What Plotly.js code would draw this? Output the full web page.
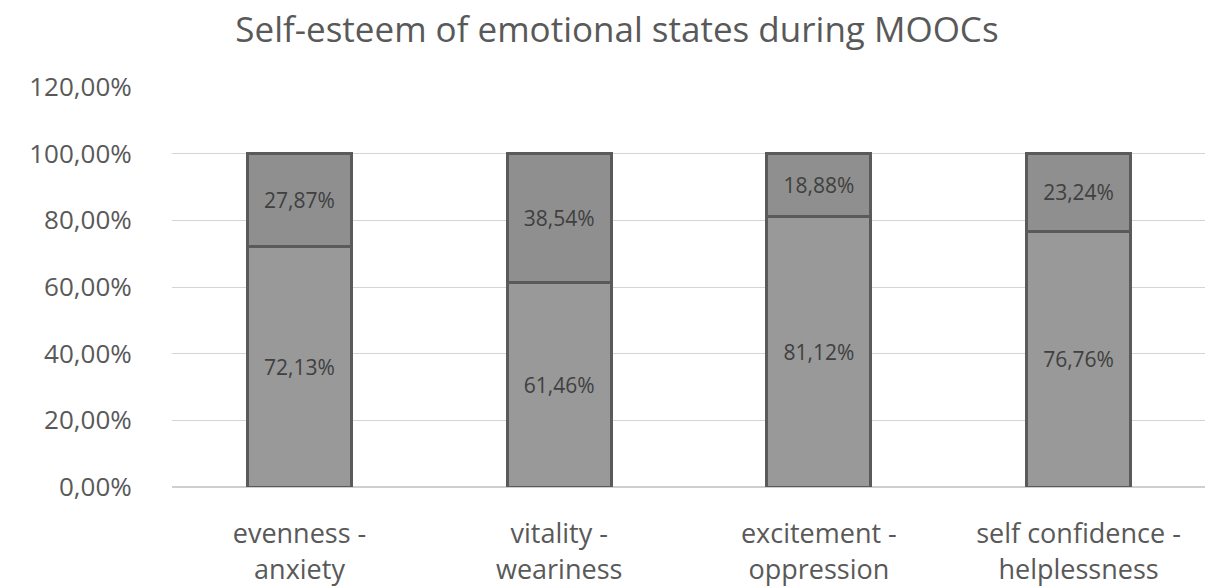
<!DOCTYPE html>
<html>
<head>
<meta charset="utf-8">
<script src="https://cdn.plot.ly/plotly-3.0.1.min.js"></script>
<style>html,body{margin:0;padding:0;background:#fff;}#chart{width:1205px;height:588px;}</style>
</head>
<body>
<div id="chart"></div>
<script>
const categories = ["evenness -<br>anxiety", "vitality -<br>weariness", "excitement -<br>oppression", "self confidence -<br>helplessness"];
const positiveShare = [72.13, 61.46, 81.12, 76.76];
const negativeShare = [27.87, 38.54, 18.88, 23.24];
const yTicks = [0, 20, 40, 60, 80, 100, 120];
const yTickLabels = ["0,00%", "20,00%", "40,00%", "60,00%", "80,00%", "100,00%", "120,00%"];

const barStyle = (fill) => ({
  color: fill,
  line: {color: '#5a5a5a', width: 3}
});

const labelFont = {family: 'Open Sans, sans-serif', size: 21, color: '#404040'};

const traces = [
  {
    type: 'bar', name: 'positive', x: categories, y: positiveShare,
    marker: barStyle('#999999'), width: 0.4,
    text: positiveShare.map(v => v.toFixed(2).replace('.', ',') + '%'),
    textposition: 'inside', insidetextanchor: 'middle',
    textfont: labelFont, insidetextfont: labelFont,
    hoverinfo: 'skip'
  },
  {
    type: 'bar', name: 'negative', x: categories, y: negativeShare,
    marker: barStyle('#8f8f8f'), width: 0.4,
    text: negativeShare.map(v => v.toFixed(2).replace('.', ',') + '%'),
    textposition: 'inside', insidetextanchor: 'middle',
    textfont: labelFont, insidetextfont: labelFont,
    hoverinfo: 'skip'
  }
];

const layout = {
  width: 1205, height: 588,
  barmode: 'stack',
  showlegend: false,
  uniformtext: {mode: 'show', minsize: 21},
  paper_bgcolor: '#ffffff', plot_bgcolor: '#ffffff',
  margin: {l: 172, r: 0, t: 87, b: 101},
  title: {
    text: 'Self-esteem of emotional states during MOOCs',
    font: {family: 'Open Sans, sans-serif', size: 35, color: '#595959'},
    xref: 'container', x: 0.512, xanchor: 'center',
    yref: 'container', y: 0.97, yanchor: 'top'
  },
  xaxis: {
    type: 'category',
    range: [-0.491, 3.487],
    showgrid: false, zeroline: false, showline: false,
    ticks: 'outside', ticklen: 23, tickcolor: 'rgba(0,0,0,0)',
    tickfont: {family: 'Open Sans, sans-serif', size: 27, color: '#595959'}
  },
  yaxis: {
    range: [0, 120],
    tickvals: yTicks, ticktext: yTickLabels,
    showgrid: true, gridcolor: '#d4d4d4', gridwidth: 1,
    zeroline: true, zerolinecolor: '#cfcfcf', zerolinewidth: 1.5,
    showline: false,
    ticks: 'outside', ticklen: 34, tickcolor: 'rgba(0,0,0,0)',
    tickfont: {family: 'Open Sans, sans-serif', size: 26, color: '#595959'}
  }
};

Plotly.newPlot('chart', traces, layout, {displayModeBar: false, staticPlot: true});
</script>
</body>
</html>
